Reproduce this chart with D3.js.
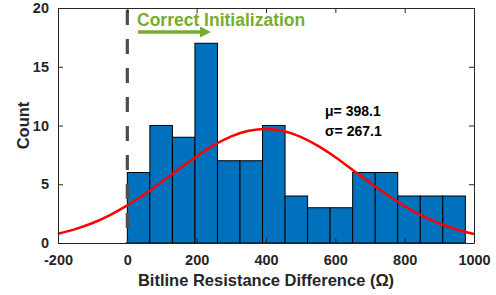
<!DOCTYPE html>
<html>
<head>
<meta charset="utf-8">
<script src="https://cdn.jsdelivr.net/npm/d3@7"></script>
<style>
  body { margin: 0; background: #fff; }
  svg { display: block; font-family: "Liberation Sans", Arial, sans-serif; font-weight: bold; }
</style>
</head>
<body>
<div id="chart"></div>
<script>
// histogram bins (left edges, bin width 65) and counts
const binEdges = [0, 65, 130, 195, 260, 325, 390, 455, 520, 585, 650, 715, 780, 845, 910, 975];
const counts = [6, 10, 9, 17, 7, 7, 10, 4, 3, 3, 6, 6, 4, 4, 4];

// fitted normal curve
const fitX = [-200, -150, -100, -50, 0, 50, 100, 150, 200, 250, 300, 350, 400, 450, 500, 550, 600, 650, 700, 750, 800, 850, 900, 950, 1000];
const fitY = [0.79, 1.18, 1.70, 2.38, 3.20, 4.15, 5.21, 6.31, 7.37, 8.33, 9.08, 9.55, 9.71, 9.53, 9.03, 8.26, 7.30, 6.22, 5.13, 4.08, 3.13, 2.32, 1.66, 1.15, 0.77];

const xTicks = [-200, 0, 200, 400, 600, 800, 1000];
const yTicks = [0, 5, 10, 15, 20];
const statsLines = ["\u03bc= 398.1", "\u03c3= 267.1"];

const width = 496, height = 295;
const margin = {left: 58, right: 22, top: 8, bottom: 52};
const axisColor = "#262626";

const svg = d3.select("#chart").append("svg")
    .attr("width", width)
    .attr("height", height);

const x = d3.scaleLinear().domain([-200, 1000]).range([margin.left, width - margin.right]);
const y = d3.scaleLinear().domain([0, 20]).range([height - margin.bottom, margin.top]);

const bins = counts.map((c, i) => ({x0: binEdges[i], x1: binEdges[i + 1], n: c}));

// bars
svg.append("g").selectAll("rect")
    .data(bins)
    .enter().append("rect")
    .attr("x", d => x(d.x0))
    .attr("y", d => y(d.n))
    .attr("width", d => x(d.x1) - x(d.x0))
    .attr("height", d => y(0) - y(d.n))
    .attr("fill", "#0072BD")
    .attr("stroke", "#000")
    .attr("stroke-width", 1);

// fit line
const line = d3.line()
    .x((d, i) => x(fitX[i]))
    .y(d => y(d))
    .curve(d3.curveCatmullRom);

svg.append("path")
    .datum(fitY)
    .attr("d", line)
    .attr("fill", "none")
    .attr("stroke", "#FF0000")
    .attr("stroke-width", 2.5);

// dashed threshold at 0
svg.append("line")
    .attr("x1", x(0)).attr("x2", x(0))
    .attr("y1", y(20) + 2).attr("y2", y(0))
    .attr("stroke", "#4d4d4d")
    .attr("stroke-width", 3.2)
    .attr("stroke-dasharray", "15,14");

// axes (box with inward ticks, MATLAB style)
const tickLen = 5;
const fmt = d => String(d);
const xAxisBottom = d3.axisBottom(x).tickValues(xTicks).tickSizeInner(-tickLen).tickSizeOuter(0).tickPadding(12).tickFormat(fmt);
const xAxisTop = d3.axisTop(x).tickValues(xTicks).tickSizeInner(-tickLen).tickSizeOuter(0).tickFormat("");
const yAxisLeft = d3.axisLeft(y).tickValues(yTicks).tickSizeInner(-tickLen).tickSizeOuter(0).tickPadding(9).tickFormat(fmt);
const yAxisRight = d3.axisRight(y).tickValues(yTicks).tickSizeInner(-tickLen).tickSizeOuter(0).tickFormat("");

function styleAxis(g) {
  g.select(".domain").attr("stroke", axisColor).attr("stroke-width", 1);
  g.selectAll(".tick line").attr("stroke", axisColor).attr("stroke-width", 1);
  g.selectAll(".tick text")
    .attr("fill", axisColor)
    .style("font-family", "'Liberation Sans', Arial, sans-serif")
    .style("font-weight", "bold")
    .style("font-size", "14.5px");
}

svg.append("g").attr("transform", `translate(0,${y(0)})`).call(xAxisBottom).call(styleAxis);
svg.append("g").attr("transform", `translate(0,${y(20)})`).call(xAxisTop).call(styleAxis);
svg.append("g").attr("transform", `translate(${x(-200)},0)`).call(yAxisLeft).call(styleAxis);
svg.append("g").attr("transform", `translate(${x(1000)},0)`).call(yAxisRight).call(styleAxis);

// axis labels
svg.append("text")
    .attr("x", (x(-200) + x(1000)) / 2)
    .attr("y", 286)
    .attr("text-anchor", "middle")
    .attr("fill", axisColor)
    .style("font-size", "16.5px")
    .text("Bitline Resistance Difference (\u03a9)");

svg.append("text")
    .attr("transform", `translate(29,${(y(0) + y(20)) / 2}) rotate(-90)`)
    .attr("text-anchor", "middle")
    .attr("fill", axisColor)
    .style("font-size", "16.5px")
    .text("Count");

// annotation
const green = "#77AC30";
svg.append("text")
    .attr("x", 137)
    .attr("y", 26)
    .attr("fill", green)
    .style("font-size", "17.5px")
    .text("Correct Initialization");

svg.append("line")
    .attr("x1", 138).attr("x2", 201)
    .attr("y1", 32).attr("y2", 32)
    .attr("stroke", green)
    .attr("stroke-width", 3.5);

svg.append("path")
    .attr("d", "M200,26.5 L211,32 L200,37.5 Z")
    .attr("fill", green);

// stats text
svg.append("g").selectAll("text")
    .data(statsLines)
    .enter().append("text")
    .attr("x", 325)
    .attr("y", (d, i) => 116 + i * 20)
    .attr("fill", "#000")
    .style("font-size", "14px")
    .text(d => d);
</script>
</body>
</html>
